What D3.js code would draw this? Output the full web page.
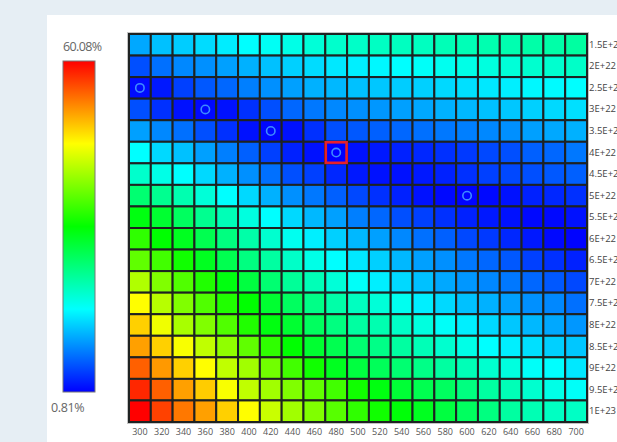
<!DOCTYPE html>
<html><head><meta charset="utf-8">
<script src="https://cdn.jsdelivr.net/npm/d3@7"></script>
<style>html,body{margin:0;padding:0;overflow:hidden;background:#e6eef4}</style>
</head><body><svg id="c" width="617" height="442"></svg>
<script>
const xLabels = ["300","320","340","360","380","400","420","440","460","480","500","520","540","560","580","600","620","640","660","680","700"];
const yLabels = ["1.5E+22","2E+22","2.5E+22","3E+22","3.5E+22","4E+22","4.5E+22","5E+22","5.5E+22","6E+22","6.5E+22","7E+22","7.5E+22","8E+22","8.5E+22","9E+22","9.5E+22","1E+23"];

const r_1_5E22 = [10.6,12.0,12.7,13.6,14.6,15.6,16.2,17.0,17.9,18.6,18.8,19.1,19.3,19.3,19.8,19.8,20.2,20.2,20.7,20.7,21.1];
const r_2E22   = [5.4,7.3,8.7,9.2,10.1,11.1,12.0,12.9,13.6,14.3,14.7,15.2,15.6,16.0,16.5,17.0,17.5,17.9,18.4,18.4,18.8];
const r_2_5E22 = [1.5,2.2,4.5,5.9,6.8,8.2,9.2,10.1,11.1,11.5,12.0,12.4,12.7,12.9,13.4,13.8,14.3,14.7,15.2,15.4,15.6];
const r_3E22   = [5.4,3.6,1.8,1.3,1.8,3.6,5.4,6.8,7.8,8.7,9.2,9.6,10.1,10.6,11.1,11.5,12.0,12.4,12.9,13.4,13.8];
const r_3_5E22 = [10.1,8.7,7.3,5.4,3.6,1.8,1.2,1.8,3.6,5.4,5.9,6.4,6.8,7.3,7.8,8.2,8.7,9.2,10.1,10.6,11.1];
const r_4E22   = [15.6,13.4,12.0,10.1,8.2,6.4,4.5,2.7,1.8,0.81,1.8,2.2,2.7,3.1,3.6,4.1,5.0,5.4,6.4,6.8,7.8];
const r_4_5E22 = [18.6,17.0,15.6,13.4,11.1,9.2,7.3,5.4,4.5,3.1,2.2,1.8,1.8,2.2,2.7,3.6,4.5,5.0,5.4,5.9,6.4];
const r_5E22   = [23.9,22.1,20.2,17.9,15.6,13.4,11.1,9.2,7.8,6.4,5.0,3.6,2.7,1.8,1.3,1.0,1.3,1.8,2.7,3.1,3.6];
const r_5_5E22 = [29.5,27.6,24.9,22.1,19.8,17.5,15.6,13.4,11.5,10.1,8.2,6.8,5.4,4.5,3.6,2.7,2.2,1.8,1.3,1.3,1.8];
const r_6E22   = [33.2,30.4,28.6,25.8,23.0,20.7,18.4,16.5,14.7,12.9,11.5,10.1,8.7,7.3,6.4,5.0,4.1,3.1,2.2,1.3,1.0];
const r_6_5E22 = [36.0,34.2,31.4,28.6,25.8,23.0,21.1,18.8,17.0,15.6,14.3,12.9,11.5,10.1,9.2,7.8,6.8,5.9,4.5,3.6,2.7];
const r_7E22   = [40.7,37.9,35.1,32.3,29.5,26.7,23.9,21.6,19.8,17.9,16.0,14.7,13.4,12.0,10.6,9.6,8.7,7.8,6.8,5.9,5.0];
const r_7_5E22 = [45.3,41.1,37.9,35.1,32.3,30.4,27.6,24.9,22.6,20.7,19.3,17.9,16.5,14.7,13.4,12.0,11.1,10.1,9.2,8.7,7.3];
const r_8E22   = [48.0,44.4,40.2,37.9,35.1,32.3,29.5,27.6,24.9,23.0,21.1,20.2,18.8,17.5,16.0,14.7,13.4,12.4,11.5,10.6,9.6];
const r_8_5E22 = [50.8,48.0,44.9,41.6,38.8,36.0,33.2,30.4,27.6,25.8,23.9,22.6,21.1,19.8,18.4,17.0,15.6,14.7,13.8,12.9,12.4];
const r_9E22   = [54.5,51.2,48.0,45.3,41.6,39.8,37.0,34.2,31.4,28.6,26.7,25.3,23.9,22.6,21.1,19.8,18.4,17.5,16.0,15.6,14.3];
const r_9_5E22 = [57.8,54.5,50.8,48.2,44.9,41.6,39.8,37.9,36.0,34.2,31.4,29.5,27.3,25.8,24.9,23.0,21.1,19.8,18.4,17.0,16.0];
const r_1E23   = [60.08,56.3,53.1,50.8,48.0,45.3,42.1,39.8,37.9,35.5,33.2,31.4,30.0,28.6,26.7,24.9,23.0,21.1,20.0,19.2,19.0];

const rows = [r_1_5E22,r_2E22,r_2_5E22,r_3E22,r_3_5E22,r_4E22,r_4_5E22,r_5E22,r_5_5E22,r_6E22,r_6_5E22,r_7E22,r_7_5E22,r_8E22,r_8_5E22,r_9E22,r_9_5E22,r_1E23];

const markerX = ["300","360","420","480","600"];
const markerY = ["2.5E+22","3E+22","3.5E+22","4E+22","5E+22"];
const highlightX = ["480"];
const highlightY = ["4E+22"];
const vMin = 0.81, vMax = 60.08;
const minLabel = "0.81%", maxLabel = "60.08%";

const svg = d3.select("#c");
svg.append("rect").attr("width",617).attr("height",442).attr("fill","#e6eef4");
svg.append("rect").attr("x",47).attr("y",15).attr("width",570).attr("height",427).attr("fill","#ffffff");

const x = d3.scaleBand().domain(xLabels).range([129,587]);
const y = d3.scaleBand().domain(yLabels).range([34,422]);
const stopsT = [0,0.25,0.5,0.75,1];
const stopColors = ["#0000ff","#00ffff","#00ff00","#ffff00","#ff0000"];
const color = d3.scaleLinear().domain(stopsT.map(t=>vMin+t*(vMax-vMin))).range(stopColors).clamp(true);

const cells = [];
rows.forEach((r,i)=>r.forEach((v,j)=>cells.push({cx:xLabels[j],cy:yLabels[i],v})));

// outer light border
svg.append("rect")
  .attr("x",x.range()[0]-1.5).attr("y",y.range()[0]-1.5)
  .attr("width",x.range()[1]-x.range()[0]+3).attr("height",y.range()[1]-y.range()[0]+3)
  .attr("fill","none").attr("stroke","#c4c4c4").attr("stroke-width",1);

svg.append("g").selectAll("rect").data(cells).join("rect")
  .attr("x",d=>x(d.cx)).attr("y",d=>y(d.cy))
  .attr("width",x.bandwidth()).attr("height",y.bandwidth())
  .attr("fill",d=>color(d.v))
  .attr("stroke","#1e2222").attr("stroke-width",2);

// markers
svg.append("g").selectAll("circle").data(markerX.map((m,i)=>({mx:m,my:markerY[i]}))).join("circle")
  .attr("cx",d=>x(d.mx)+x.bandwidth()/2).attr("cy",d=>y(d.my)+y.bandwidth()/2)
  .attr("r",4.2).attr("fill","none").attr("stroke","#3d8bff").attr("stroke-width",1.6);

svg.append("g").selectAll("rect").data(highlightX.map((m,i)=>({mx:m,my:highlightY[i]}))).join("rect")
  .attr("x",d=>x(d.mx)+0.5).attr("y",d=>y(d.my)+0.5)
  .attr("width",x.bandwidth()-1).attr("height",y.bandwidth()-1)
  .attr("fill","none").attr("stroke","#e8202a").attr("stroke-width",2.6);

// axes
const xAxis = svg.append("g").attr("transform",`translate(0,${y.range()[1]+1})`)
  .call(d3.axisBottom(x).tickSize(0).tickPadding(6));
xAxis.select(".domain").remove();
xAxis.selectAll("text").attr("font-family","'Open Sans', sans-serif").attr("font-size",9).attr("fill","#555");

const yAxis = svg.append("g").attr("transform",`translate(${x.range()[1]},0)`)
  .call(d3.axisRight(y).tickSize(0).tickPadding(2));
yAxis.select(".domain").remove();
yAxis.selectAll("text").attr("font-family","'Open Sans', sans-serif").attr("font-size",9.5).attr("fill","#444");

// colorbar
const defs = svg.append("defs");
const grad = defs.append("linearGradient").attr("id","cb").attr("x1",0).attr("x2",0).attr("y1",1).attr("y2",0);
grad.selectAll("stop").data(stopsT).join("stop")
  .attr("offset",d=>d).attr("stop-color",(d,i)=>stopColors[i]);
const cbY = d3.scaleLinear().domain([vMin,vMax]).range([392,61]);
svg.append("rect").attr("x",63).attr("y",cbY(vMax)).attr("width",32).attr("height",cbY(vMin)-cbY(vMax))
  .attr("fill","url(#cb)").attr("stroke","#777").attr("stroke-width",1);
svg.append("text").attr("x",63).attr("y",cbY(vMax)-10).text(maxLabel)
  .attr("font-family","'Open Sans', sans-serif").attr("font-size",12.5).attr("letter-spacing",-0.6).attr("fill","#666");
svg.append("text").attr("x",51).attr("y",cbY(vMin)+20).text(minLabel)
  .attr("font-family","'Open Sans', sans-serif").attr("font-size",12.5).attr("letter-spacing",-0.4).attr("fill","#666");
</script></body></html>
